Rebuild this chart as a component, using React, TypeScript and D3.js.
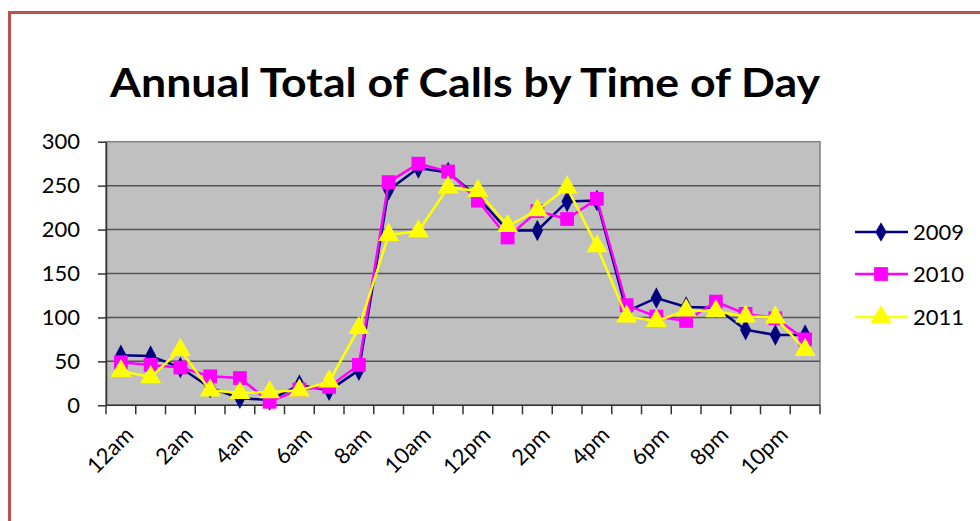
import React, { useRef, useEffect } from 'react';
import * as d3 from 'd3';

const hours = [
  '12am', '1am', '2am', '3am', '4am', '5am', '6am', '7am', '8am', '9am', '10am', '11am',
  '12pm', '1pm', '2pm', '3pm', '4pm', '5pm', '6pm', '7pm', '8pm', '9pm', '10pm', '11pm',
];
const calls2009 = [57, 56, 43, 20, 8, 6, 23, 17, 40, 245, 270, 265, 237, 199, 199, 232, 233, 107, 122, 112, 111, 86, 80, 80];
const calls2010 = [49, 46, 43, 33, 31, 4, 18, 21, 46, 254, 275, 266, 233, 191, 221, 212, 235, 114, 101, 96, 118, 104, 99, 75];
const calls2011 = [39, 32, 63, 17, 14, 15, 17, 27, 88, 194, 198, 248, 244, 204, 222, 248, 181, 101, 96, 108, 107, 101, 100, 63];
const yTicks = [0, 50, 100, 150, 200, 250, 300];
const seriesNames = ['2009', '2010', '2011'];

const App = () => {
  const ref = useRef<SVGSVGElement>(null);

  useEffect(() => {
    const svg = d3.select(ref.current);
    svg.selectAll('*').remove();
    const font = 'Lato, "DejaVu Sans", sans-serif';

    // outer frame
    svg.append('rect')
      .attr('x', 9.5).attr('y', 12.5)
      .attr('width', 1000).attr('height', 600)
      .attr('fill', '#fff')
      .attr('stroke', '#c0504d').attr('stroke-width', 3);

    svg.append('text')
      .attr('x', 465).attr('y', 97)
      .attr('text-anchor', 'middle')
      .attr('font-family', font).attr('font-weight', 'bold')
      .attr('font-size', 40)
      .attr('textLength', 710).attr('lengthAdjust', 'spacingAndGlyphs')
      .text('Annual Total of Calls by Time of Day');

    const left = 106, right = 820, top = 141.7, bottom = 405.3;
    const x = d3.scaleBand().domain(hours).range([left, right]);
    const y = d3.scaleLinear().domain([0, 300]).range([bottom, top]);

    svg.append('rect')
      .attr('x', left).attr('y', top)
      .attr('width', right - left).attr('height', bottom - top)
      .attr('fill', '#c0c0c0')
      .attr('stroke', '#808080').attr('stroke-width', 1.5);

    svg.append('g').selectAll('line').data(yTicks.slice(1, -1)).join('line')
      .attr('x1', left).attr('x2', right)
      .attr('y1', d => y(d)).attr('y2', d => y(d))
      .attr('stroke', '#555').attr('stroke-width', 1.5);

    // y axis
    const yAxis = svg.append('g')
      .attr('transform', `translate(${left},0)`)
      .call(d3.axisLeft(y).tickValues(yTicks).tickSize(8).tickPadding(18).tickSizeOuter(0));
    yAxis.select('.domain').attr('stroke', '#333').attr('stroke-width', 1.5);
    yAxis.selectAll('.tick line').attr('stroke', '#333').attr('stroke-width', 1.5);
    yAxis.selectAll('.tick text')
      .attr('font-family', font).attr('font-size', 22).attr('fill', '#000');

    // x axis
    const boundaries = d3.range(hours.length + 1).map(i => left + i * x.bandwidth());
    svg.append('line')
      .attr('x1', left).attr('x2', right)
      .attr('y1', bottom).attr('y2', bottom)
      .attr('stroke', '#333').attr('stroke-width', 1.5);
    svg.append('g').selectAll('line').data(boundaries).join('line')
      .attr('x1', d => d).attr('x2', d => d)
      .attr('y1', bottom).attr('y2', bottom + 9)
      .attr('stroke', '#333').attr('stroke-width', 1.5);
    svg.append('g').selectAll('text').data(hours.filter((_, i) => i % 2 === 0)).join('text')
      .attr('transform', d => `translate(${x(d)! + x.bandwidth() / 2 + 14},${bottom + 31}) rotate(-45)`)
      .attr('text-anchor', 'end')
      .attr('font-family', font).attr('font-size', 22)
      .text(d => d);

    const cx = (i: number) => x(hours[i])! + x.bandwidth() / 2;
    const line = d3.line<number>().x((_, i) => cx(i)).y(d => y(d));
    const colors = ['#000080', '#ff00ff', '#ffff00'];
    const symbols = [d3.symbolDiamond, d3.symbolSquare, d3.symbolTriangle];
    const sizes = [110, 190, 190];
    const all = [calls2009, calls2010, calls2011];

    all.forEach((vals, s) => {
      svg.append('path')
        .attr('d', line(vals)!)
        .attr('fill', 'none')
        .attr('stroke', colors[s]).attr('stroke-width', 2.5);
      const sym = d3.symbol().type(symbols[s]).size(sizes[s]);
      svg.append('g').selectAll('path').data(vals).join('path')
        .attr('transform', (d, i) => `translate(${cx(i)},${y(d)})${s === 0 ? ' scale(1,1.1)' : ''}`)
        .attr('d', sym()!)
        .attr('fill', colors[s]);
    });

    // legend
    const legendY = [232, 274, 317];
    seriesNames.forEach((name, s) => {
      const g = svg.append('g').attr('transform', `translate(0,${legendY[s]})`);
      g.append('line').attr('x1', 855).attr('x2', 908)
        .attr('stroke', colors[s]).attr('stroke-width', 2.5);
      g.append('path')
        .attr('transform', 'translate(881,0)')
        .attr('d', d3.symbol().type(symbols[s]).size(sizes[s])()!)
        .attr('fill', colors[s]);
      g.append('text').attr('x', 913).attr('y', 8)
        .attr('font-family', font).attr('font-size', 22)
        .text(name);
    });
  }, []);

  return (
    <svg ref={ref} width={980} height={521}
      style={{ position: 'absolute', left: 0, top: 0, display: 'block', background: '#fff' }} />
  );
};

export default App;
